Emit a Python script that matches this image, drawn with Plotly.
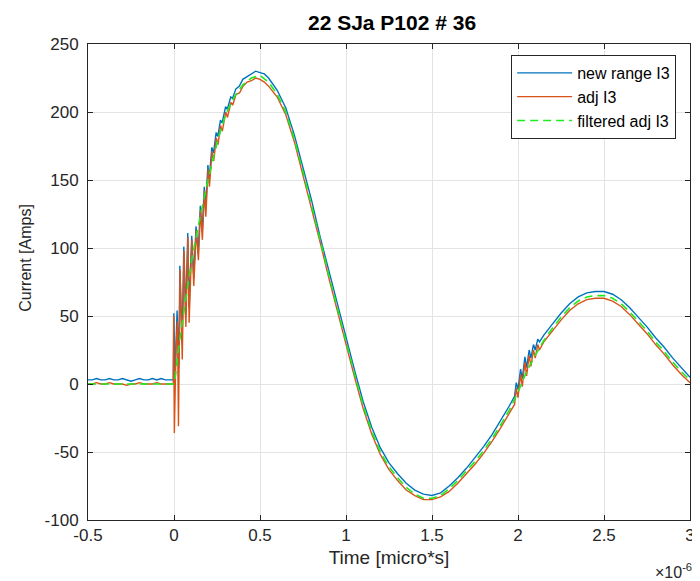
import plotly.graph_objects as go

# ---------------- data (time in micro-seconds, current in Amps) ----------------
t_pre = [-0.5, -0.475, -0.45, -0.425, -0.4, -0.375, -0.35, -0.325, -0.3, -0.275,
         -0.25, -0.225, -0.2, -0.175, -0.15, -0.125, -0.1, -0.075, -0.05, -0.025, -0.004]

new_range_pre = [3, 3, 4, 3, 3, 4, 3, 3, 4, 3, 2, 3, 4, 3, 3, 4, 3, 4, 3, 3, 3]
adj_pre = [0, 0, 1, 0, 0, 1, 0, 0, 0, -1, 0, 0, 1, 0, 0, 0, 1, 0, 0, 0, 0]

# new range I3 after trigger
t_new = [-0.001, 0.006, 0.018, 0.028, 0.034, 0.047, 0.057, 0.068, 0.080, 0.088,
         0.103, 0.115, 0.128, 0.141, 0.153, 0.164, 0.176, 0.184, 0.197, 0.205,
         0.220, 0.230, 0.245, 0.255, 0.270, 0.280, 0.300, 0.310, 0.330, 0.340,
         0.360, 0.380, 0.400, 0.425, 0.45, 0.475, 0.5, 0.525, 0.55, 0.6,
         0.65, 0.7, 0.75, 0.8, 0.85, 0.9, 0.95, 1.0, 1.05, 1.1,
         1.15, 1.2, 1.25, 1.3, 1.35, 1.4, 1.45, 1.5, 1.55, 1.6,
         1.65, 1.7, 1.75, 1.8, 1.85, 1.9, 1.95, 1.98, 1.99, 2.0,
         2.015, 2.025, 2.04, 2.05, 2.065, 2.075, 2.09, 2.1, 2.115, 2.125,
         2.15, 2.2, 2.25, 2.3, 2.35, 2.4, 2.45, 2.5, 2.55, 2.6,
         2.65, 2.7, 2.75, 2.8, 2.85, 2.9, 2.95, 3.0]
new_range = [52, 6, 54, 12, 87, 30, 101, 50, 111, 56,
             109, 78, 116, 96, 131, 112, 145, 129, 161, 151,
             174, 170, 185, 182, 194, 192, 204, 202, 211, 210,
             217, 219, 224, 226, 228, 230, 229, 228, 225, 216,
             203, 183, 159, 135, 108, 83, 58, 33, 10, -13,
             -32, -47, -58, -66, -73, -78, -81, -82, -80, -75,
             -69, -62, -54, -46, -37, -27, -16, -9, 1, -4,
             11, 4, 20, 12, 25, 19, 29, 25, 33, 31,
             36, 44, 52, 59, 64, 67, 68, 68, 66, 62,
             56, 49, 42, 34, 27, 19, 12, 5]

# adj I3 after trigger
t_adj = [-0.002, 0.002, 0.012, 0.020, 0.026, 0.035, 0.048, 0.058, 0.069, 0.081,
         0.088, 0.104, 0.115, 0.129, 0.142, 0.154, 0.165, 0.177, 0.185, 0.198,
         0.206, 0.221, 0.231, 0.246, 0.256, 0.271, 0.281, 0.301, 0.311, 0.331,
         0.341, 0.361, 0.381, 0.401, 0.425, 0.45, 0.475, 0.5, 0.525, 0.55,
         0.6, 0.65, 0.7, 0.75, 0.8, 0.85, 0.9, 0.95, 1.0, 1.05,
         1.1, 1.15, 1.2, 1.25, 1.3, 1.35, 1.4, 1.45, 1.5, 1.55,
         1.6, 1.65, 1.7, 1.75, 1.8, 1.85, 1.9, 1.95, 1.98, 1.99,
         2.0, 2.015, 2.025, 2.04, 2.05, 2.065, 2.075, 2.09, 2.1, 2.115,
         2.125, 2.15, 2.2, 2.25, 2.3, 2.35, 2.4, 2.45, 2.5, 2.55,
         2.6, 2.65, 2.7, 2.75, 2.8, 2.85, 2.9, 2.95, 3.0]
adj = [50, -36, 28, 46, -31, 84, 18, 98, 42, 108,
       45, 106, 72, 113, 91, 128, 106, 142, 123, 158,
       145, 171, 164, 181, 176, 190, 186, 200, 196, 207,
       205, 213, 214, 219, 222, 223, 225, 224, 222, 219,
       211, 198, 178, 154, 130, 104, 78, 53, 28, 5,
       -18, -37, -52, -63, -71, -78, -82, -85, -85, -83,
       -79, -73, -66, -59, -51, -42, -32, -21, -15, -3,
       -10, 7, -2, 16, 6, 21, 13, 25, 19, 29,
       25, 31, 39, 47, 54, 59, 62, 63, 63, 61,
       57, 51, 44, 37, 29, 22, 14, 7, 1]

# filtered adj I3
t_filt = [-0.5, 0.0, 0.01, 0.025, 0.05, 0.075, 0.1, 0.125, 0.15, 0.175,
          0.2, 0.225, 0.25, 0.275, 0.3, 0.35, 0.4, 0.45, 0.5, 0.55,
          0.6, 0.65, 0.7, 0.75, 0.8, 0.85, 0.9, 0.95, 1.0, 1.05,
          1.1, 1.15, 1.2, 1.25, 1.3, 1.35, 1.4, 1.45, 1.5, 1.55,
          1.6, 1.65, 1.7, 1.75, 1.8, 1.85, 1.9, 1.95, 2.0, 2.05,
          2.1, 2.15, 2.2, 2.25, 2.3, 2.35, 2.4, 2.45, 2.5, 2.55,
          2.6, 2.65, 2.7, 2.75, 2.8, 2.85, 2.9, 2.95, 3.0]
filtered = [0, 0, 8, 25, 47, 69, 89, 106, 122, 137,
            151, 165, 177, 188, 198, 211, 220, 225, 227, 222,
            213, 200, 180, 156, 132, 106, 80, 55, 30, 7,
            -16, -35, -50, -61, -69, -76, -81, -84, -84, -82,
            -77, -71, -64, -57, -49, -40, -30, -19, -6, 9,
            21, 32, 41, 49, 56, 61, 64, 65, 65, 63,
            59, 53, 46, 39, 31, 24, 16, 9, 3]

x_ticks = [-0.5, 0, 0.5, 1, 1.5, 2, 2.5, 3]
x_tick_labels = ["-0.5", "0", "0.5", "1", "1.5", "2", "2.5", "3"]
y_ticks = [-100, -50, 0, 50, 100, 150, 200, 250]
y_tick_labels = ["-100", "-50", "0", "50", "100", "150", "200", "250"]

# ---------------- figure ----------------
BLUE = "#0072BD"
ORANGE = "#D95319"
GREEN = "rgb(30,235,30)"
AX = "#262626"
FONT = "Liberation Sans, Arial, sans-serif"

fig = go.Figure()
fig.add_trace(go.Scatter(x=t_pre + t_new, y=new_range_pre + new_range, mode="lines",
                         name="new range I3", line=dict(color=BLUE, width=1.4)))
fig.add_trace(go.Scatter(x=t_pre + t_adj, y=adj_pre + adj, mode="lines",
                         name="adj I3", line=dict(color=ORANGE, width=1.4)))
fig.add_trace(go.Scatter(x=t_filt, y=filtered, mode="lines",
                         name="filtered adj I3",
                         line=dict(color=GREEN, width=1.6, dash="8px,5px")))

axis_common = dict(
    showline=True, linecolor=AX, linewidth=1, mirror="ticks",
    ticks="inside", ticklen=5, tickcolor=AX, tickwidth=1,
    showgrid=True, gridcolor="#e3e3e3", gridwidth=1,
    zeroline=False,
    tickfont=dict(family=FONT, size=17, color=AX),
)

# the page body adds an 8px offset, so the figure is sized to end at the window edge
fig.update_layout(
    width=692, height=573,
    paper_bgcolor="white", plot_bgcolor="white",
    margin=dict(l=80, r=5, t=36, b=61),
    showlegend=True,
    title=dict(text="<b>22 SJa P102 # 36</b>", x=0.555, xanchor="center",
               y=0.974, yanchor="middle",
               font=dict(family=FONT, size=21, color="black")),
    xaxis=dict(range=[-0.5, 3], tickvals=x_ticks, ticktext=x_tick_labels,
               title=dict(text="Time [micro*s]", standoff=6,
                          font=dict(family=FONT, size=19, color=AX)),
               **axis_common),
    yaxis=dict(range=[-100, 250], tickvals=y_ticks, ticktext=y_tick_labels,
               ticklabelstandoff=5,
               **axis_common),
    legend=dict(x=0.977, y=0.977, xanchor="right", yanchor="top",
                bgcolor="white", bordercolor=AX, borderwidth=1,
                font=dict(family=FONT, size=16, color="black"),
                itemwidth=55, tracegroupgap=0),
    annotations=[
        dict(text="×10<sup>-6</sup>", x=1, xref="paper", xanchor="right",
             xshift=4, y=0, yref="paper", yanchor="top", yshift=-39,
             showarrow=False, font=dict(family=FONT, size=16, color=AX)),
        dict(text="Current [Amps]", textangle=-90, x=17, xref="paper",
             xanchor="center", y=0.55, yref="paper", yanchor="middle",
             showarrow=False, font=dict(family=FONT, size=16, color=AX)),
    ],
)
# y-label placed in pixel terms: convert x=17px (figure) to paper units
fig.layout.annotations[1].x = (17 - 80) / (692 - 80 - 5)

fig.write_html("out.html")
